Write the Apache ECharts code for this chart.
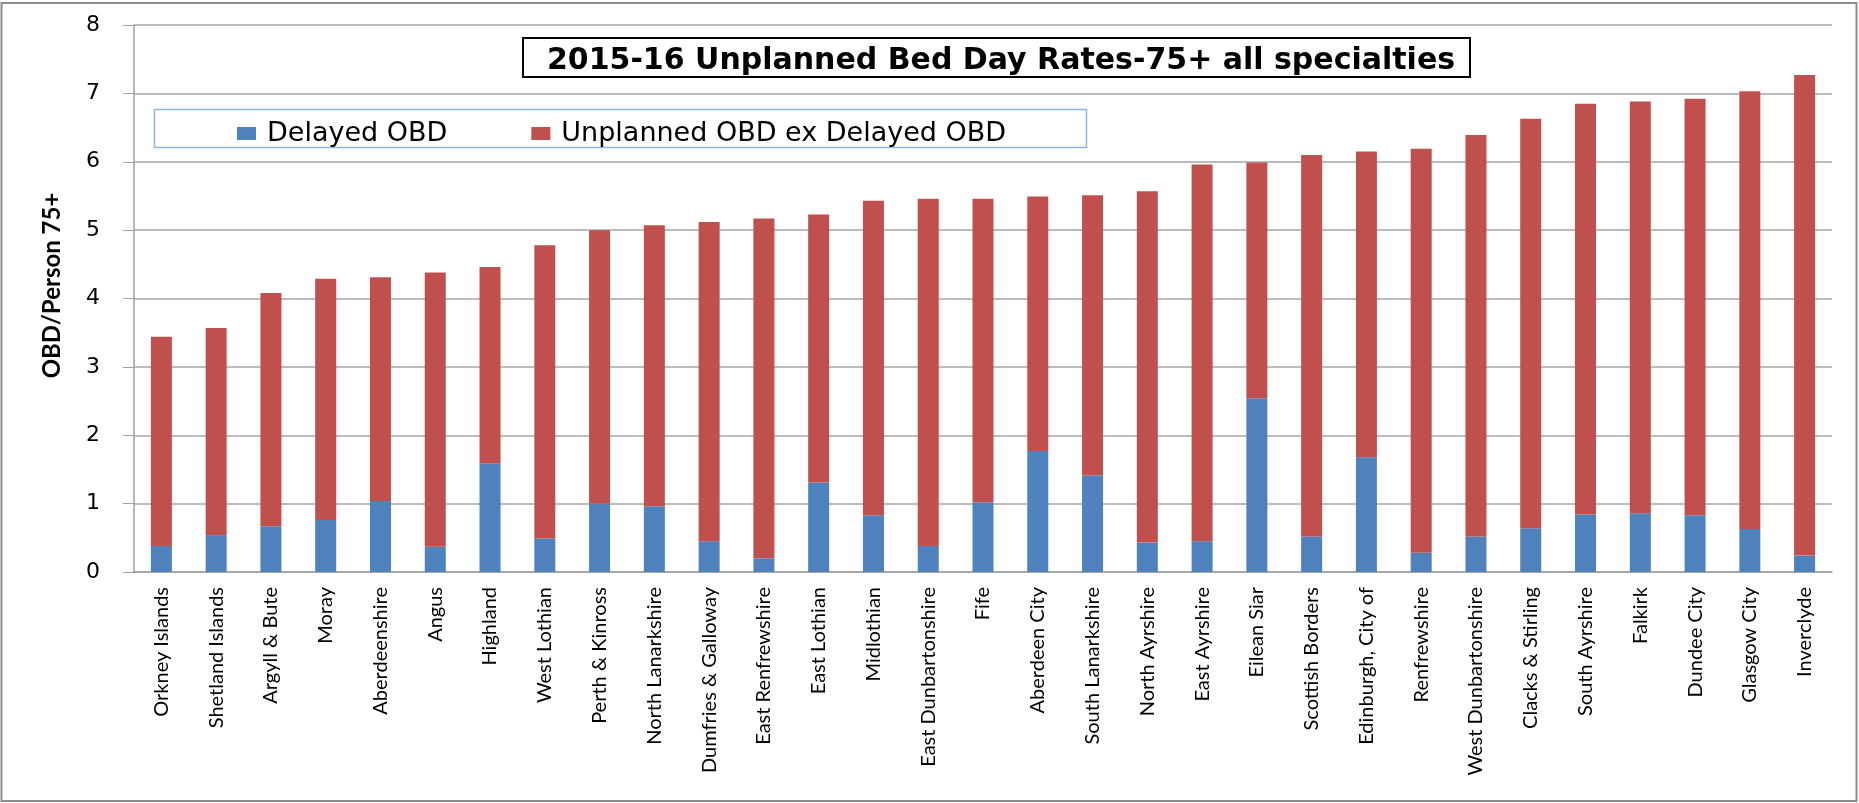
<!DOCTYPE html>
<html>
<head>
<meta charset="utf-8">
<script src="https://cdn.jsdelivr.net/npm/echarts@6/dist/echarts.min.js"></script>
<style>
  html, body { margin: 0; padding: 0; background: #fff; }
  #main { width: 1859px; height: 803px; }
</style>
</head>
<body>
<div id="main"></div>
<script>
// council areas, sorted by total rate
var areas = ['Orkney Islands', 'Shetland Islands', 'Argyll & Bute', 'Moray', 'Aberdeenshire', 'Angus',
  'Highland', 'West Lothian', 'Perth & Kinross', 'North Lanarkshire', 'Dumfries & Galloway',
  'East Renfrewshire', 'East Lothian', 'Midlothian', 'East Dunbartonshire', 'Fife', 'Aberdeen City',
  'South Lanarkshire', 'North Ayrshire', 'East Ayrshire', 'Eilean Siar', 'Scottish Borders',
  'Edinburgh, City of', 'Renfrewshire', 'West Dunbartonshire', 'Clacks & Stirling', 'South Ayrshire',
  'Falkirk', 'Dundee City', 'Glasgow City', 'Inverclyde'];

var delayedObd = [0.38, 0.54, 0.67, 0.76, 1.04, 0.37, 1.59, 0.49, 1.00, 0.96, 0.45,
  0.20, 1.31, 0.83, 0.38, 1.02, 1.77, 1.41, 0.43, 0.45, 2.54,
  0.52, 1.68, 0.28, 0.52, 0.64, 0.84, 0.86, 0.83, 0.63, 0.24];

var unplannedExDelayed = [3.06, 3.03, 3.41, 3.53, 3.27, 4.01, 2.87, 4.29, 4.00, 4.11, 4.67,
  4.97, 3.92, 4.60, 5.08, 4.44, 3.72, 4.10, 5.14, 5.51, 3.45,
  5.58, 4.47, 5.91, 5.87, 5.99, 6.01, 6.02, 6.09, 6.40, 7.03];

var yTicks = [0, 1, 2, 3, 4, 5, 6, 7, 8];

var myChart = echarts.init(document.getElementById('main'));

var option = {
  backgroundColor: '#fff',
  animation: false,
  title: {
    text: '2015-16 Unplanned Bed Day Rates-75+ all specialties',
    left: 996,
    top: 41,
    textAlign: 'center',
    textStyle: { fontFamily: 'DejaVu Sans', fontWeight: 'bold', fontSize: 30, color: '#000' }
  },
  legend: {
    left: 232,
    top: 115,
    itemWidth: 19,
    itemHeight: 13,
    itemGap: 84,
    icon: 'rect',
    textStyle: { fontFamily: 'DejaVu Sans', fontSize: 27, color: '#000', padding: [0, 0, 0, 6] },
    data: ['Delayed OBD', 'Unplanned OBD ex Delayed OBD']
  },
  graphic: [
    { type: 'rect', z: -1, shape: { x: 1.5, y: 3, width: 1855, height: 798 },
      style: { fill: 'none', stroke: '#8c8c8c', lineWidth: 2 } },
    { type: 'rect', z: 1, shape: { x: 523, y: 38, width: 947, height: 39 },
      style: { fill: '#fff', stroke: '#000', lineWidth: 2 } },
    { type: 'rect', z: 1, shape: { x: 154.5, y: 109.5, width: 932, height: 38 },
      style: { fill: '#fff', stroke: '#8eb4e3', lineWidth: 1.5 } }
  ],
  grid: { left: 134, right: 27, top: 25, bottom: 231 },
  xAxis: {
    type: 'category',
    data: areas,
    axisLine: { lineStyle: { color: '#a0a0a0', width: 1.5 } },
    axisTick: { length: 8, lineStyle: { color: '#a0a0a0' } },
    axisLabel: { rotate: 90, interval: 0, margin: 15, fontFamily: 'Lato', fontSize: 20, color: '#000' }
  },
  yAxis: {
    type: 'value',
    min: yTicks[0],
    max: yTicks[yTicks.length - 1],
    interval: 1,
    name: 'OBD/Person 75+',
    nameLocation: 'middle',
    nameGap: 70,
    nameTextStyle: { fontFamily: 'Lato', fontWeight: 'bold', fontSize: 24, color: '#000', padding: [0, 0, 0, 26] },
    axisLine: { show: true, lineStyle: { color: '#a0a0a0', width: 1.5 } },
    axisTick: { show: true, length: 11, lineStyle: { color: '#a0a0a0' } },
    axisLabel: { margin: 34, fontFamily: 'DejaVu Sans', fontSize: 22, color: '#000' },
    splitLine: { lineStyle: { color: '#a6a6a6', width: 1.5 } }
  },
  series: [
    {
      name: 'Delayed OBD',
      type: 'bar',
      stack: 'obd',
      barWidth: 21,
      itemStyle: { color: '#4f81bd' },
      data: delayedObd
    },
    {
      name: 'Unplanned OBD ex Delayed OBD',
      type: 'bar',
      stack: 'obd',
      barWidth: 21,
      itemStyle: { color: '#c0504d' },
      data: unplannedExDelayed
    }
  ]
};

myChart.setOption(option);
</script>
</body>
</html>
